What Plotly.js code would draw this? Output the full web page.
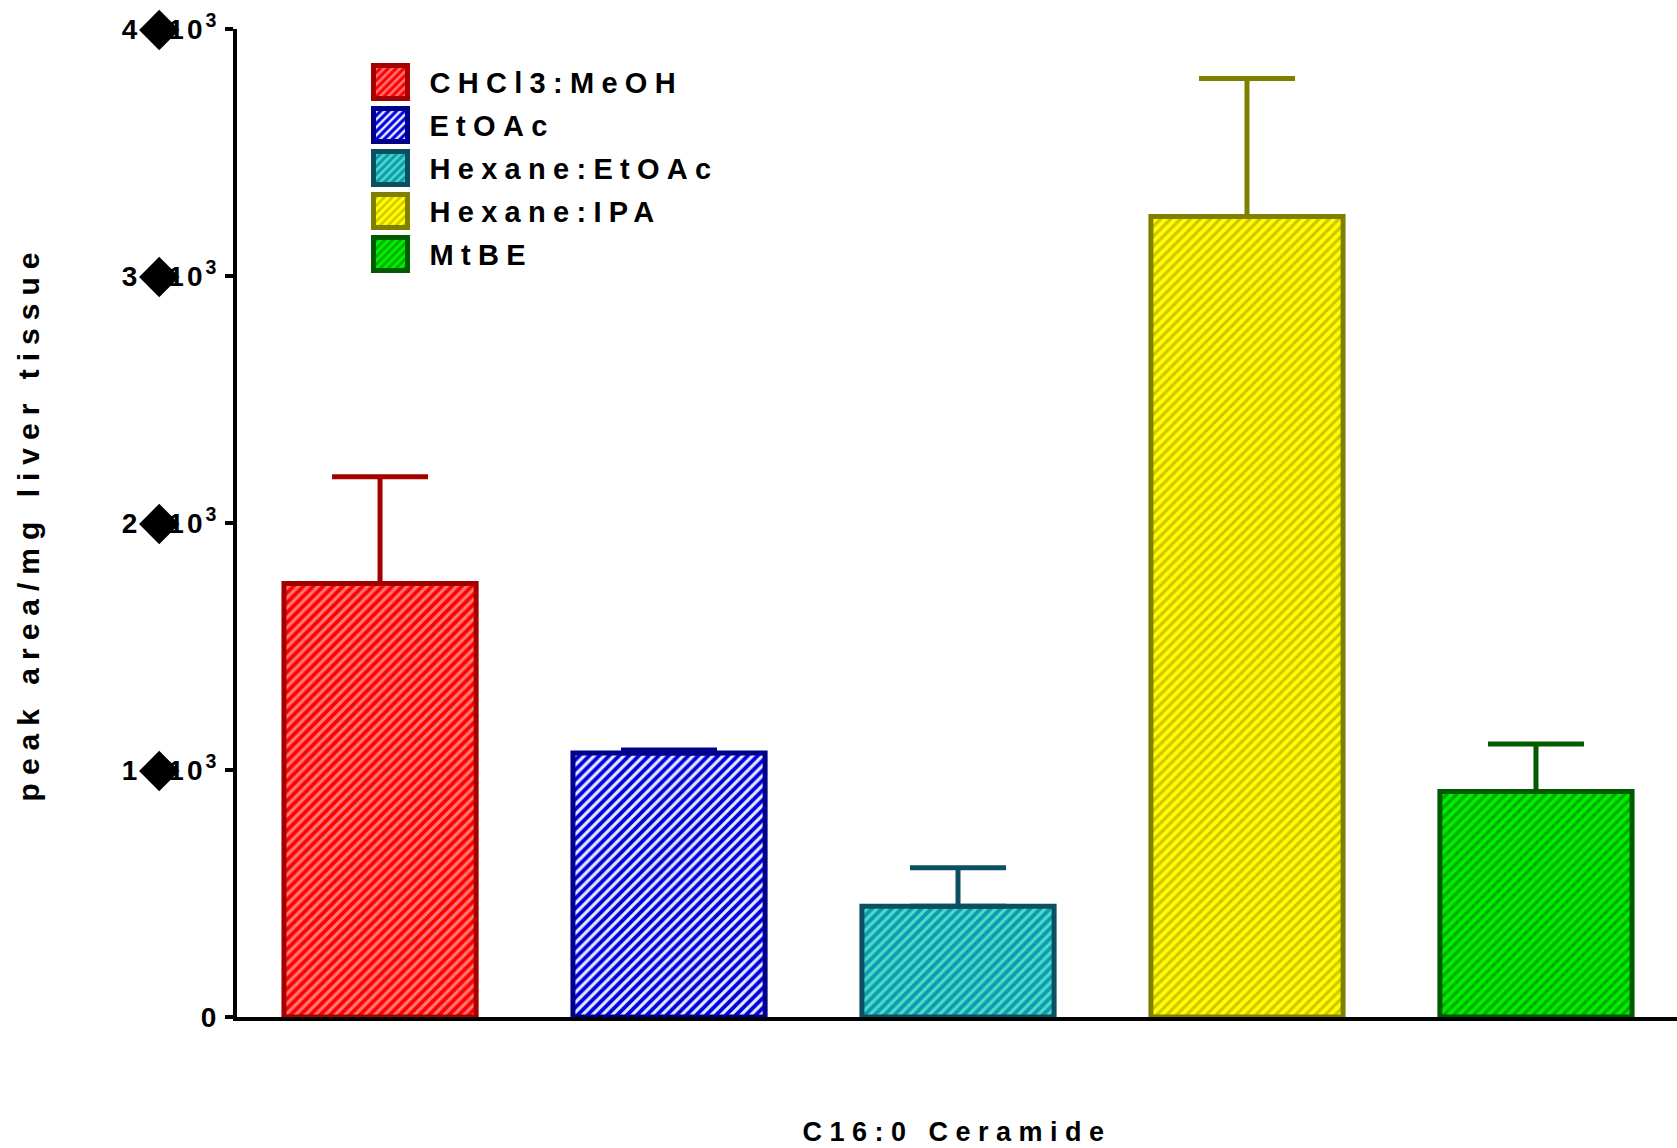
<!DOCTYPE html>
<html><head><meta charset="utf-8">
<script src="https://cdn.plot.ly/plotly-3.0.1.min.js"></script>
<style>
body{margin:0;background:#fff}
#chart{width:1677px;height:1148px}
.legendtext{letter-spacing:7.3px}
.xtitle{letter-spacing:7.5px}
.ytitle{letter-spacing:8px}
.ytick text{letter-spacing:3px}
</style></head><body><div id="chart"></div><script>
// data
const solvents = ['CHCl3:MeOH', 'EtOAc', 'Hexane:EtOAc', 'Hexane:IPA', 'MtBE'];
const peakArea = [1755, 1069, 448, 3241, 913];
const errUpper = [432, 12, 156, 559, 192];
const tickValues = [0, 1000, 2000, 3000, 4000];
const tickLabels = ['0', '1◆10³', '2◆10³', '3◆10³', '4◆10³'];
const yTitle = 'peak area/mg liver tissue';
const xTitle = 'C16:0 Ceramide';
// styles
const fillColors = ['#FF0000', '#0000DD', '#1596B4', '#FFFF00', '#00EE00'];
const lightColors = ['#FF7878', '#E6ECFF', '#44E2C4', '#D2C400', '#00AA00'];
const edgeColors = ['#A50000', '#00008B', '#0A5060', '#808000', '#005A00'];

const FONT = 'Liberation Sans, Arial, sans-serif';

function tickHtml(t) {
  const m = t.match(/^(\d)◆(\d+)³$/);
  if (!m) return t;
  return m[1] + '<span style="font-size:50px;letter-spacing:-10px;baseline-shift:-4px">◆</span>' + m[2] + '<sup>3</sup>';
}

const traces = solvents.map((s, i) => ({
  type: 'bar',
  name: s,
  legendgroup: s,
  x: [s],
  y: [peakArea[i]],
  width: 0.665,
  marker: {
    color: fillColors[i],
    line: {color: edgeColors[i], width: 5},
    pattern: {shape: '/', fgcolor: fillColors[i], bgcolor: lightColors[i], size: 7, solidity: 0.55, fillmode: 'replace'}
  },
  error_y: {type: 'data', symmetric: false, array: [errUpper[i]], arrayminus: [0], color: edgeColors[i], thickness: 5, width: 48},
  hoverinfo: 'skip'
}));

const layout = {
  width: 1677, height: 1148,
  margin: {l: 237, r: 0, t: 29, b: 131, pad: 0},
  paper_bgcolor: '#fff', plot_bgcolor: '#fff',
  barmode: 'overlay',
  showlegend: true,
  font: {family: FONT, color: '#000'},
  xaxis: {
    type: 'category', categoryorder: 'array', categoryarray: solvents,
    range: [-0.495, 4.488],
    showline: true, linewidth: 4, linecolor: '#000',
    showticklabels: false, ticks: '', showgrid: false, zeroline: false,
    title: {text: xTitle, font: {family: FONT, size: 27, weight: 'bold', color: '#000'}, standoff: 103}
  },
  yaxis: {
    range: [0, 4000],
    tickmode: 'array', tickvals: tickValues, ticktext: tickLabels.map(tickHtml),
    ticklabeloverflow: 'allow',
    showline: true, linewidth: 4, linecolor: '#000',
    ticks: 'outside', ticklen: 8, tickwidth: 4, tickcolor: '#000',
    tickfont: {family: FONT, size: 28, weight: 'bold', color: '#000'},
    showgrid: false, zeroline: false,
    title: {text: '\u00A0' + yTitle, font: {family: FONT, size: 30, weight: 'bold', color: '#000'}, standoff: 74}
  },
  legend: {
    x: 0.0795, y: 0.972, xanchor: 'left', yanchor: 'top',
    bgcolor: 'rgba(0,0,0,0)', borderwidth: 0,
    font: {family: FONT, size: 29, weight: 'bold', color: '#000'},
    itemwidth: 68, tracegroupgap: 2.3
  }
};

Plotly.newPlot('chart', traces, layout, {staticPlot: true}).then(gd => {
  gd.querySelectorAll('.legend .legendpoints path').forEach(p => {
    p.setAttribute('d', 'M17,16.5H-17V-16.5H17Z');
  });
});
</script></body></html>
